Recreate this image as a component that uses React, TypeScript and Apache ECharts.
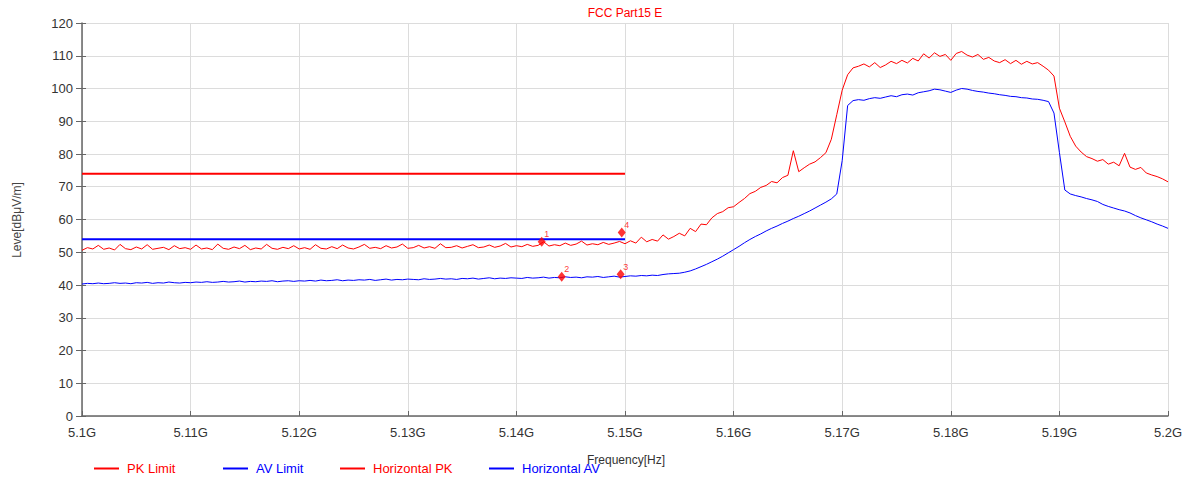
import React, { useEffect, useRef } from "react";
import * as echarts from "echarts";

const freqStart = 5.1;
const freqStep = 0.0005;

const pkLevels = [
  50.6, 51.4, 51.0, 52.1, 50.9, 51.3, 50.7, 52.4, 51.1, 50.8, 51.6, 51.0, 52.3, 50.9, 51.2, 51.5, 50.8, 52.0, 51.1, 51.4,
  50.9, 52.2, 51.0, 51.3, 50.8, 52.5, 51.2, 50.9, 51.6, 51.1, 52.1, 50.8, 51.3, 51.0, 52.4, 51.2, 50.9, 51.5, 51.1, 52.0,
  51.0, 51.4, 50.9, 52.3, 51.2, 51.0, 51.7, 51.1, 52.2, 51.3, 51.0, 51.6, 52.4, 51.2, 51.5, 51.1, 52.0, 51.3, 51.6, 52.5,
  51.2, 51.4, 52.1, 51.3, 51.7, 51.2, 52.6, 51.4, 51.5, 52.0, 51.3, 51.8, 52.3, 51.4, 51.6, 52.2, 51.5, 51.9, 52.7, 51.6,
  52.0, 51.7, 52.4, 51.8, 52.1, 53.2, 51.9, 52.3, 52.0, 52.8, 52.1, 52.5, 53.4, 52.2, 52.6, 52.3, 53.0, 52.4, 52.8, 53.3,
  52.6, 53.5, 52.8, 54.6, 53.2, 53.9, 53.4, 55.3, 54.0, 54.8, 55.8, 55.0, 57.3, 56.3, 58.6, 58.4, 60.5, 61.8, 62.4, 63.6,
  63.9, 65.2, 66.4, 67.9, 68.6, 69.8, 70.4, 71.6, 71.2, 72.8, 73.5, 81.0, 74.6, 75.8, 76.9, 77.6, 78.9, 80.4, 84.5, 92.0,
  99.5, 104.2, 106.3, 106.8, 107.5, 106.6, 107.9, 106.4, 107.2, 108.3, 107.6, 108.6, 107.8, 109.2, 108.4, 110.6, 109.3, 110.9, 109.8, 110.4,
  108.6, 110.7, 111.3, 110.2, 109.6, 110.4, 108.9, 109.5, 108.4, 107.9, 108.8, 107.6, 108.6, 107.4, 108.3, 107.5, 107.9, 106.8, 105.6, 103.8,
  94.0, 89.8, 85.4, 82.4, 80.6, 79.2, 78.6, 77.8, 78.3, 76.9, 77.5, 76.4, 80.2, 76.0, 75.3, 75.9, 74.2, 73.6, 73.1, 72.4, 71.5,
];

const avLevels = [
  40.3, 40.5, 40.4, 40.6, 40.4, 40.5, 40.7, 40.5, 40.6, 40.4, 40.7, 40.6, 40.8, 40.5, 40.7, 40.6, 40.9, 40.7, 40.6, 40.8,
  40.7, 40.9, 40.8, 41.0, 40.8, 40.9, 41.1, 40.9, 41.0, 41.2, 40.9, 41.1, 41.0, 41.2, 41.1, 41.3, 41.0, 41.2, 41.3, 41.1,
  41.3, 41.2, 41.4, 41.2, 41.5, 41.3, 41.4, 41.6, 41.3, 41.5, 41.4, 41.6, 41.5, 41.7, 41.4, 41.6, 41.8, 41.5, 41.7, 41.6,
  41.8, 41.7, 41.6, 41.9, 41.7, 41.8, 42.0, 41.8, 41.9, 41.7, 42.0, 41.9, 42.1, 41.8, 42.0, 42.2, 41.9, 42.1, 42.0, 42.2,
  42.1, 42.0, 42.3, 42.1, 42.2, 42.4, 42.1, 42.3, 42.2, 42.5, 42.3, 42.4, 42.2, 42.5, 42.4, 42.6, 42.3, 42.5, 42.7, 42.4,
  42.6, 42.8, 42.7, 42.9, 42.8, 43.0, 42.9, 43.2, 43.4, 43.5, 43.6, 43.9, 44.3, 44.9, 45.6, 46.3, 47.1, 47.9, 48.8, 49.8,
  50.8, 51.8, 52.9, 53.9, 54.8, 55.6, 56.5, 57.3, 58.0, 58.8, 59.5, 60.3, 61.0, 61.8, 62.6, 63.5, 64.4, 65.3, 66.3, 67.8,
  78.0, 94.8, 96.3, 96.6, 96.4, 96.9, 97.2, 97.0, 97.4, 97.8, 97.5, 98.1, 98.3, 98.0, 98.7, 99.0, 99.3, 99.8, 99.6, 99.2,
  98.8, 99.5, 100.0, 99.8, 99.4, 99.1, 98.9, 98.6, 98.4, 98.1, 97.9, 97.6, 97.5, 97.2, 97.1, 96.8, 96.7, 96.4, 96.0, 92.5,
  80.5, 69.0, 67.8, 67.3, 66.9, 66.4, 66.0, 65.5, 64.6, 64.0, 63.5, 63.0, 62.6, 62.0, 61.2, 60.5, 59.9, 59.3, 58.6, 58.0, 57.3,
];

const pkLimit = [
  [5.1, 74],
  [5.15, 74],
];
const avLimit = [
  [5.1, 54],
  [5.15, 54],
];

const markerFreqs = [5.14233, 5.14417, 5.1496, 5.1497];
const markerLevels = [53.2, 42.5, 43.3, 56.0];
const markerNames = ["1", "2", "3", "4"];

const legendNames = ["PK Limit", "AV Limit", "Horizontal PK", "Horizontal AV"];
const titleText = "FCC Part15 E";
const xName = "Frequency[Hz]";
const yName = "Leve[dBμV/m]";

const RED = "#ff0000";
const BLUE = "#0000ff";
const FONT = "'Liberation Sans', Arial, sans-serif";

export default function App() {
  const ref = useRef<HTMLDivElement>(null);

  useEffect(() => {
    document.body.style.margin = "0";
    if (!ref.current) return;
    const chart = echarts.init(ref.current, undefined, { renderer: "svg" });

    const pkData = pkLevels.map((v, i) => [freqStart + i * freqStep, v]);
    const avData = avLevels.map((v, i) => [freqStart + i * freqStep, v]);
    const markerData = markerFreqs.map((f, i) => ({
      value: [f, markerLevels[i]],
      name: markerNames[i],
    }));

    const legendColors = [RED, BLUE, RED, BLUE];
    const legendLefts = [94, 223, 340, 489];
    const legends = legendNames.map((n, i) => ({
      left: legendLefts[i],
      top: 462,
      padding: 0,
      itemWidth: 25,
      itemHeight: 2,
      icon: "rect",
      textStyle: { fontSize: 13, fontFamily: FONT, padding: [0, 0, 0, 3] },
      data: [{ name: n, textStyle: { color: legendColors[i] } }],
    }));

    const option: any = {
      animation: false,
      textStyle: { fontFamily: FONT },
      grid: { left: 82, right: 19, top: 23, bottom: 61, containLabel: false },
      graphic: [
        {
          type: "text",
          x: 625,
          y: 13,
          style: {
            text: titleText,
            fill: RED,
            font: `12px ${FONT}`,
            textAlign: "center",
            textVerticalAlign: "middle",
          },
        },
        {
          type: "text",
          x: 17,
          y: 220,
          rotation: Math.PI / 2,
          style: {
            text: yName,
            fill: "#444",
            font: `12px ${FONT}`,
            textAlign: "center",
            textVerticalAlign: "middle",
          },
        },
        {
          type: "text",
          x: 626,
          y: 460,
          style: {
            text: xName,
            fill: "#333",
            font: `12px ${FONT}`,
            textAlign: "center",
            textVerticalAlign: "middle",
          },
        },
      ],
      legend: legends,
      xAxis: {
        type: "value",
        min: 5.1,
        max: 5.2,
        interval: 0.01,
        axisLine: { show: true, lineStyle: { color: "#666", width: 1.5 } },
        axisTick: { show: true, inside: true, length: 5, lineStyle: { color: "#666" } },
        axisLabel: {
          color: "#333",
          fontSize: 13,
          margin: 10,
          formatter: (v: number) => Math.round(v * 100) / 100 + "G",
        },
        splitLine: { show: true, lineStyle: { color: "#dcdcdc", width: 1 } },
      },
      yAxis: [
        {
          type: "value",
          min: 0,
          max: 120,
          interval: 10,
          axisLine: { show: true, lineStyle: { color: "#666", width: 1.5 } },
          axisTick: { show: true, inside: false, length: 6, lineStyle: { color: "#666" } },
          axisLabel: { color: "#333", fontSize: 13, margin: 9 },
          splitLine: { show: true, lineStyle: { color: "#dcdcdc", width: 1 } },
        },
        {
          type: "value",
          min: 0,
          max: 120,
          interval: 10,
          position: "left",
          axisLine: { show: false },
          axisTick: { show: true, inside: true, length: 4, lineStyle: { color: "#666" } },
          axisLabel: { show: false },
          splitLine: { show: false },
        },
      ],
      series: [
        {
          name: legendNames[0],
          type: "line",
          data: pkLimit,
          symbol: "none",
          color: RED,
          lineStyle: { color: RED, width: 2 },
        },
        {
          name: legendNames[1],
          type: "line",
          data: avLimit,
          symbol: "none",
          color: BLUE,
          lineStyle: { color: BLUE, width: 2 },
        },
        {
          name: legendNames[2],
          type: "line",
          data: pkData,
          symbol: "none",
          color: RED,
          lineStyle: { color: RED, width: 1 },
        },
        {
          name: legendNames[3],
          type: "line",
          data: avData,
          symbol: "none",
          color: BLUE,
          lineStyle: { color: BLUE, width: 1 },
        },
        {
          name: "Markers",
          type: "scatter",
          data: markerData,
          symbol: "diamond",
          symbolSize: [8, 10],
          itemStyle: { color: RED },
          z: 5,
          label: {
            show: true,
            formatter: (p: any) => p.name,
            position: "top",
            distance: 0,
            offset: [5, 2],
            color: RED,
            fontSize: 9,
            fontFamily: FONT,
          },
        },
      ],
    };

    chart.setOption(option);
    return () => chart.dispose();
  }, []);

  return <div ref={ref} style={{ width: 1187, height: 477 }} />;
}
